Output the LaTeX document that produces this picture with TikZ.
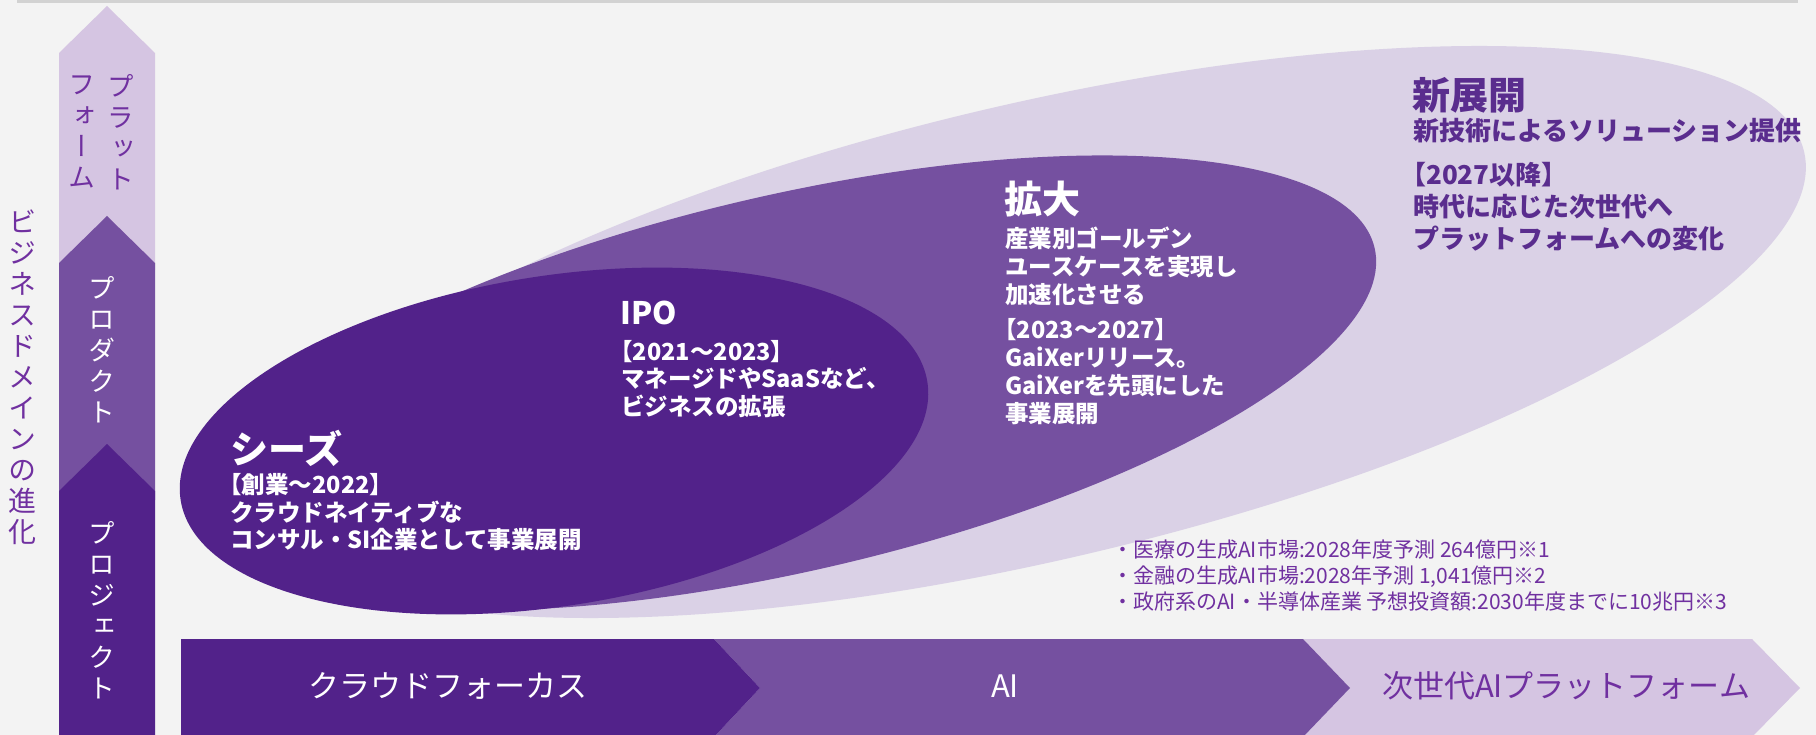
\documentclass[tikz,border=0pt]{standalone}
\usepackage{fontspec}
\setmainfont{Noto Sans CJK JP}
\newfontfamily\jpvert[RawFeature=+vert]{Noto Sans CJK JP}
\usetikzlibrary{positioning}

\definecolor{bgc}{HTML}{F3F3F3}
\definecolor{topbar}{HTML}{D2D2D2}
\definecolor{deep}{HTML}{52228A}
\definecolor{mid}{HTML}{7550A0}
\definecolor{pale}{HTML}{DAD1E6}
\definecolor{palearr}{HTML}{D5C5E2}
\definecolor{txtp}{HTML}{7030A0}
\definecolor{txtd}{HTML}{5A2D8E}

\newcommand{\lbr}{\kern-0.5em【}

\begin{document}
\begin{tikzpicture}[
  x=1pt, y=-1pt,
  ttl/.style={anchor=north west, inner sep=0pt, font=\fontsize{38}{38}\selectfont\bfseries, text=white},
  body/.style={anchor=north west, inner sep=0pt, align=left, font=\fontsize{23.5}{27.7}\selectfont\bfseries, text=white},
  vtxt/.style={inner sep=0pt, align=center, font=\jpvert\fontsize{27}{31}\selectfont},
  band/.style={inner sep=0pt, font=\fontsize{31}{31}\selectfont},
  note/.style={anchor=north west, inner sep=0pt, align=left, font=\fontsize{21}{26}\selectfont, text=txtp}
]
% ================= CANVAS =================
\fill[bgc] (0,0) rectangle (1816,735);
\useasboundingbox (0,0) rectangle (1816,735);
\fill[topbar] (17,0) rectangle (1798,3.5);

% ================= STAGES =================
\fill[pale, rotate around={13.2:(1035,332)}] (1035,332) ellipse [x radius=790, y radius=228];
\fill[mid, rotate around={13:(790,383)}] (790,383) ellipse [x radius=600, y radius=188];
\fill[deep, rotate around={9:(554,441)}] (554,441) ellipse [x radius=378, y radius=165];

% ================= DOMAIN AXIS =================
\fill[palearr] (59,53) -- (107,6) -- (155,53) -- (155,270) -- (59,270) -- cycle;
\fill[mid] (59,263) -- (107,216) -- (155,263) -- (155,500) -- (59,500) -- cycle;
\fill[deep] (59,491) -- (107,444) -- (155,491) -- (155,735) -- (59,735) -- cycle;
\node[vtxt, text=txtp] (plat1) at (121,132) {プ\\ラ\\ッ\\ト};
\node[vtxt, text=txtp] (plat2) at (82,132) {フ\\ォ\\ー\\ム};
\node[vtxt, text=white] (prod) at (102,350) {プ\\ロ\\ダ\\ク\\ト};
\node[vtxt, text=white] (proj) at (102,610) {プ\\ロ\\ジ\\ェ\\ク\\ト};
\node[vtxt, text=txtp, font=\jpvert\fontsize{28}{31}\selectfont] (axis) at (23,377)
  {ビ\\ジ\\ネ\\ス\\ド\\メ\\イ\\ン\\の\\進\\化};

% ================= TECH BAND =================
\fill[palearr] (1303,639) -- (1752,639) -- (1800,688) -- (1752,737) -- (1303,737) -- (1350,688) -- cycle;
\fill[mid] (714,639) -- (1303,639) -- (1350,688) -- (1303,737) -- (714,737) -- (760,688) -- cycle;
\fill[deep] (181,639) -- (714,639) -- (760,688) -- (714,737) -- (181,737) -- cycle;
\node[band, text=white] (cloud) at (448,686) {クラウドフォーカス};
\node[band, text=white] (ai) at (1005,686) {AI};
\node[band, text=txtp] (nextai) at (1566,686) {次世代AIプラットフォーム};

% ================= STAGE TEXTS =================
\node[ttl] (seeds) at (230,430) {シーズ};
\node[body] (seedsb) at (230,473)
  {\lbr{}創業～2022】\\クラウドネイティブな\\コンサル・SI企業として事業展開};
\node[ttl, font=\fontsize{31}{31}\selectfont\bfseries] (ipo) at (620,301) {IPO};
\node[body] (ipob) at (621,340)
  {\lbr{}2021～2023】\\マネージドやSaaSなど、\\ビジネスの拡張};
\node[ttl] (grow) at (1004,181) {拡大};
\node[body] (growb) at (1005,227)
  {産業別ゴールデン\\ユースケースを実現し\\加速化させる\\[8pt]\lbr{}2023～2027】\\GaiXerリリース。\\GaiXerを先頭にした\\事業展開};
\node[ttl, text=txtd] (newdev) at (1412,77) {新展開};
\node[body, text=txtd, font=\fontsize{26}{32}\selectfont\bfseries] (newdevs) at (1413,118)
  {新技術によるソリューション提供};
\node[body, text=txtd, font=\fontsize{26}{32}\selectfont\bfseries] (newdevb) at (1413,162)
  {\lbr{}2027以降】\\時代に応じた次世代へ\\プラットフォームへの変化};

% ================= NOTES =================
\node[note] (notes) at (1112,540)
  {・医療の生成AI市場:2028年度予測 264億円※1\\・金融の生成AI市場:2028年予測 1,041億円※2\\・政府系のAI・半導体産業 予想投資額:2030年度までに10兆円※3};
\end{tikzpicture}
\end{document}
